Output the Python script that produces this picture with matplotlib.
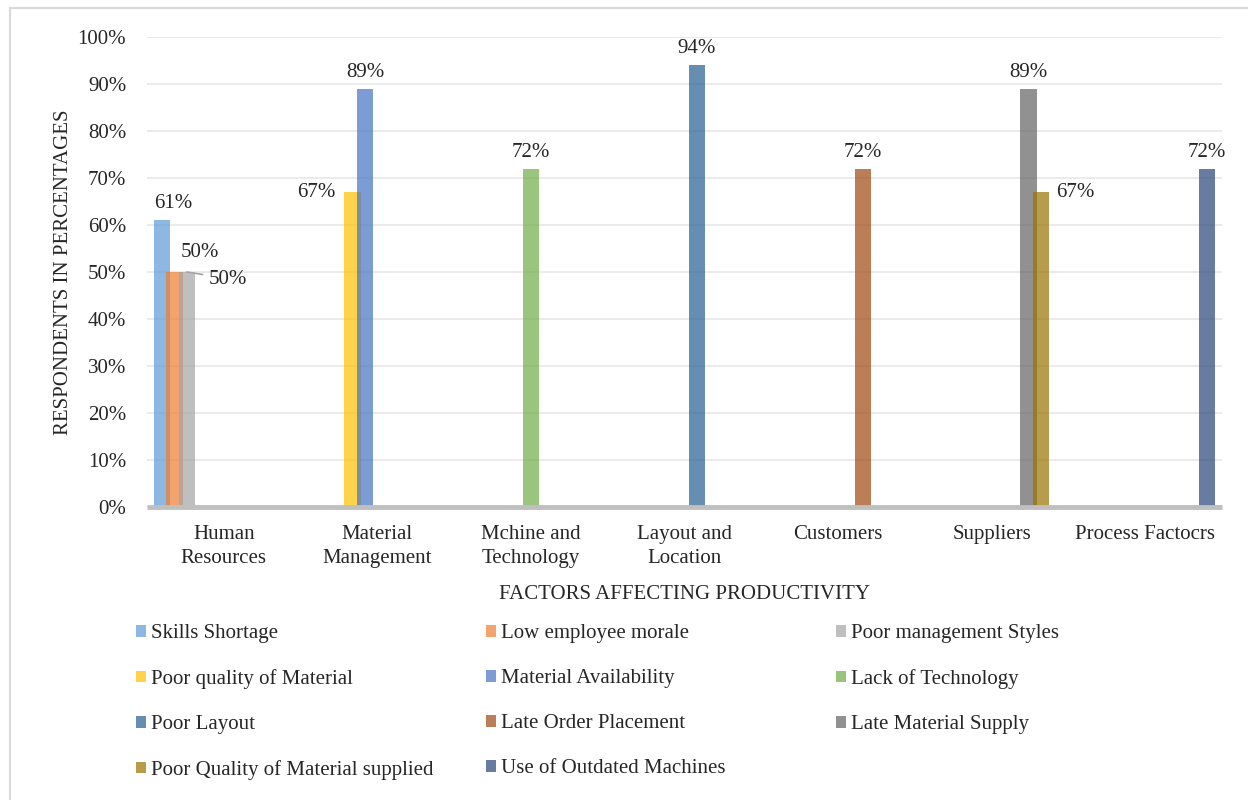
import matplotlib.pyplot as plt
import numpy as np
from matplotlib.ticker import PercentFormatter
from matplotlib.lines import Line2D

plt.rcParams['font.family'] = ['Liberation Serif', 'DejaVu Serif']

categories = ["Human\nResources", "Material\nManagement", "Mchine and\nTechnology",
              "Layout and\nLocation", "Customers", "Suppliers", "Process Factocrs"]

series_names = [
    "Skills Shortage",
    "Low employee morale",
    "Poor management Styles",
    "Poor quality of Material",
    "Material Availability",
    "Lack of Technology",
    "Poor Layout",
    "Late Order Placement",
    "Late Material Supply",
    "Poor Quality of Material supplied",
    "Use of Outdated Machines",
]

# value of each series per category (percent of respondents)
skills_shortage = [61, 0, 0, 0, 0, 0, 0]
low_morale = [50, 0, 0, 0, 0, 0, 0]
poor_management = [50, 0, 0, 0, 0, 0, 0]
poor_quality_material = [0, 67, 0, 0, 0, 0, 0]
material_availability = [0, 89, 0, 0, 0, 0, 0]
lack_of_technology = [0, 0, 72, 0, 0, 0, 0]
poor_layout = [0, 0, 0, 94, 0, 0, 0]
late_order = [0, 0, 0, 0, 72, 0, 0]
late_material_supply = [0, 0, 0, 0, 0, 89, 0]
poor_quality_supplied = [0, 0, 0, 0, 0, 67, 0]
outdated_machines = [0, 0, 0, 0, 0, 0, 72]

values = [skills_shortage, low_morale, poor_management, poor_quality_material,
          material_availability, lack_of_technology, poor_layout, late_order,
          late_material_supply, poor_quality_supplied, outdated_machines]

colors = ["#5B9BD5", "#ED7D31", "#A5A5A5", "#FFC000", "#4472C4", "#70AD47",
          "#255E91", "#9E480E", "#636363", "#997300", "#264478"]

FS = 15
fig = plt.figure(figsize=(12.48, 8), dpi=100)
ax = fig.add_axes([147 / 1248, 1 - 507 / 800, 1075 / 1248, 470 / 800])

x = np.arange(len(categories))
step = 0.0804
width = 0.107
n = len(values)

bars = []
for j, vals in enumerate(values):
    v = np.array(vals) / 100.0
    b = ax.bar(x + (j - (n - 1) / 2) * step, v, width, color=colors[j],
               alpha=0.7, label=series_names[j], zorder=3, linewidth=0)
    bars.append(b)

# data labels: (dx px, dy px, ha, va) offset from bar top centre
label_style = {
    0: (11, 7, 'center', 'bottom'),
    1: (25, 10, 'center', 'bottom'),
    2: (22, -7, 'left', 'center'),
    3: (-17, 0, 'right', 'center'),
    9: (15, 0, 'left', 'center'),
}
for j, vals in enumerate(values):
    for i, val in enumerate(vals):
        if val == 0:
            continue
        xc = x[i] + (j - (n - 1) / 2) * step
        dx, dy, ha, va = label_style.get(j, (0, 7, 'center', 'bottom'))
        ax.annotate(f"{val}%", (xc, val / 100.0), xytext=(dx * 0.72, dy * 0.72),
                    textcoords='offset points', ha=ha, va=va, fontsize=FS,
                    color='#262626', zorder=5)

# leader line for poor management label
xc2 = x[0] + (2 - (n - 1) / 2) * step
ax.annotate("", (xc2, 0.50), xytext=(16 * 0.72, -2.5 * 0.72),
            textcoords='offset points',
            arrowprops=dict(arrowstyle='-', color='#a6a6a6', lw=1.2,
                            shrinkA=0, shrinkB=0))

ax.set_xlim(-0.5, len(categories) - 0.5)
ax.set_ylim(0, 1.0)
ax.set_yticks(np.arange(0, 1.01, 0.1))
ax.yaxis.set_major_formatter(PercentFormatter(1.0, decimals=0))
ax.set_xticks(x)
ax.set_xticklabels(categories, fontsize=FS, color='#262626', linespacing=1.35)
ax.tick_params(axis='both', length=0, labelsize=FS, colors='#262626')
ax.tick_params(axis='x', pad=13)
ax.tick_params(axis='y', pad=15)
ax.grid(axis='y', color='#ebebeb', linewidth=1.5, zorder=0)
for s in ax.spines.values():
    s.set_visible(False)
ax.axhline(0, color='#bfbfbf', linewidth=3.5, zorder=4, clip_on=False,
           solid_capstyle='butt')

ax.set_xlabel("FACTORS AFFECTING PRODUCTIVITY", fontsize=FS, color='#262626', labelpad=12.5)
ax.set_ylabel("RESPONDENTS IN PERCENTAGES", fontsize=FS, color='#262626', labelpad=3.5)

# legend in three columns placed manually
col_x = [136 / 1248, 486 / 1248, 836 / 1248]
top_y = 1 - 624 / 800
for c in range(3):
    idx = list(range(c, n, 3))
    leg = fig.legend([bars[k] for k in idx], [series_names[k] for k in idx],
                     loc='upper left', bbox_to_anchor=(col_x[c], top_y),
                     frameon=False, fontsize=FS, handlelength=0.5, handleheight=0.5,
                     handletextpad=0.2, labelspacing=1.25, borderpad=0, borderaxespad=0)
    for t in leg.get_texts():
        t.set_color('#262626')

# chart border (top and left edges)
fig.add_artist(Line2D([10 / 1248, 10 / 1248], [0, 1 - 8 / 800], color='#d9d9d9', lw=1.5))
fig.add_artist(Line2D([10 / 1248, 1], [1 - 8 / 800, 1 - 8 / 800], color='#d9d9d9', lw=1.5))

plt.savefig('out.png', dpi=100)
